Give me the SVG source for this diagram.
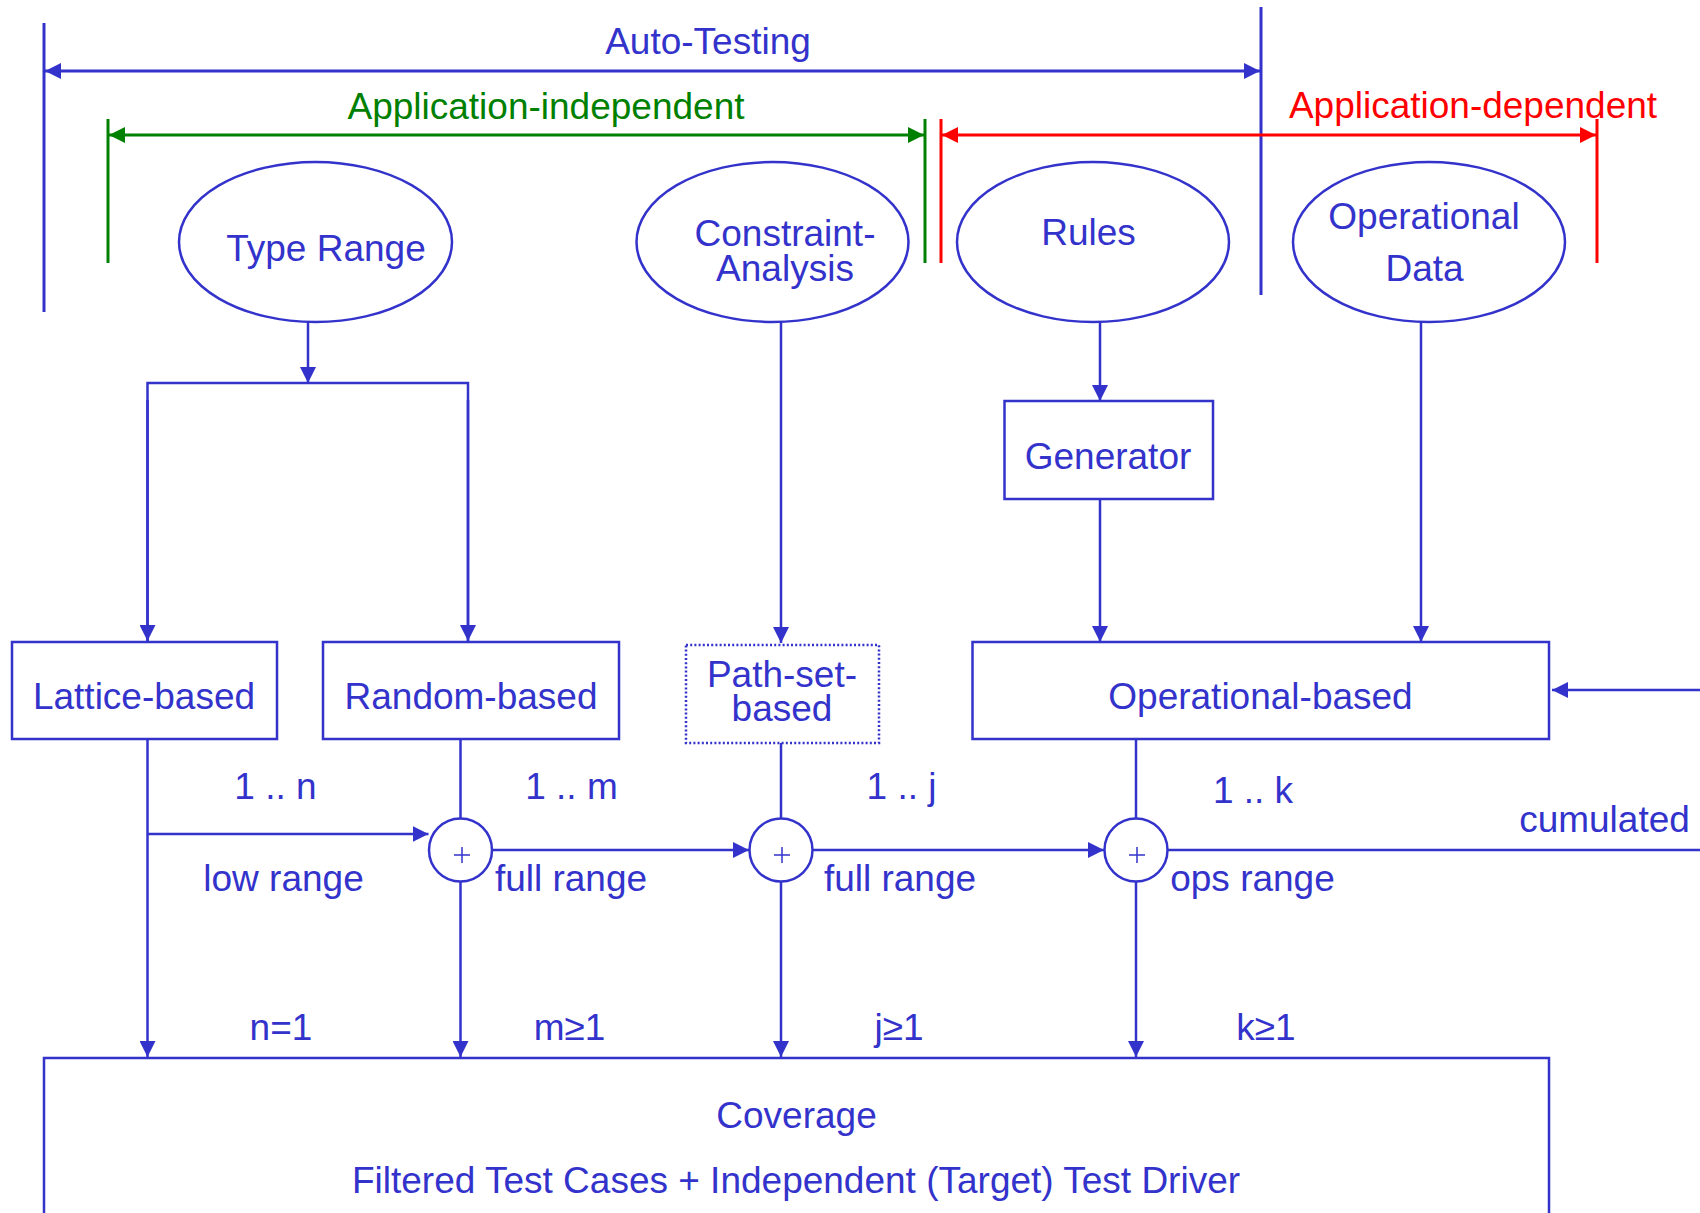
<svg xmlns="http://www.w3.org/2000/svg" width="1700" height="1213" viewBox="0 0 1700 1213">
<style>
text { font-family: "Liberation Sans", Arial, sans-serif; font-size: 37px; fill: #3333cc; text-anchor: middle; }
.shape { fill: #ffffff; stroke: #3333cc; stroke-width: 2.5; }
.dotted { fill: #ffffff; stroke: #3333cc; stroke-width: 2.5; stroke-dasharray: 2 2.2; }
.conn { fill: none; stroke: #3333cc; stroke-width: 2.5; }
.plus { fill: none; stroke: #3333cc; stroke-width: 1.5; }
.dimb { fill: none; stroke: #3333cc; stroke-width: 3; }
.dimg { fill: none; stroke: #008000; stroke-width: 3; }
.dimr { fill: none; stroke: #ff0000; stroke-width: 3; }
</style>
<defs>
<marker id="ab" markerUnits="userSpaceOnUse" markerWidth="16" markerHeight="16" refX="15" refY="7.5" orient="auto-start-reverse" viewBox="0 0 15 15"><path d="M0,0 L15,7.5 L0,15 Z" fill="#3333cc"/></marker>
<marker id="ag" markerUnits="userSpaceOnUse" markerWidth="16" markerHeight="16" refX="15" refY="7.5" orient="auto-start-reverse" viewBox="0 0 15 15"><path d="M0,0 L15,7.5 L0,15 Z" fill="#008000"/></marker>
<marker id="ar" markerUnits="userSpaceOnUse" markerWidth="16" markerHeight="16" refX="15" refY="7.5" orient="auto-start-reverse" viewBox="0 0 15 15"><path d="M0,0 L15,7.5 L0,15 Z" fill="#ff0000"/></marker>
</defs>

<g id="scopes">
  <line class="dimb" x1="44" y1="23" x2="44" y2="312"/>
  <line class="dimb" x1="1261" y1="7" x2="1261" y2="295"/>
  <line class="dimb" x1="45" y1="71" x2="1260" y2="71" marker-start="url(#ab)" marker-end="url(#ab)"/>
  <text x="708" y="53.5">Auto-Testing</text>
  <line class="dimg" x1="108" y1="119" x2="108" y2="263"/>
  <line class="dimg" x1="925" y1="119" x2="925" y2="263"/>
  <line class="dimg" x1="109" y1="135" x2="924" y2="135" marker-start="url(#ag)" marker-end="url(#ag)"/>
  <text x="546" y="119" style="fill:#008000">Application-independent</text>
  <line class="dimr" x1="941" y1="119" x2="941" y2="263"/>
  <line class="dimr" x1="1597" y1="119" x2="1597" y2="263"/>
  <line class="dimr" x1="942" y1="135" x2="1596" y2="135" marker-start="url(#ar)" marker-end="url(#ar)"/>
  <text x="1473" y="118" style="fill:#ff0000">Application-dependent</text>
</g>

<g id="connectors">
  <line class="conn" x1="308" y1="322" x2="308" y2="383" marker-end="url(#ab)"/>
  <path class="conn" d="M147.5,641 V383 H468 V641" />
  <line class="conn" x1="147.5" y1="400" x2="147.5" y2="641" marker-end="url(#ab)"/>
  <line class="conn" x1="468" y1="400" x2="468" y2="641" marker-end="url(#ab)"/>
  <line class="conn" x1="781" y1="322" x2="781" y2="643" marker-end="url(#ab)"/>
  <line class="conn" x1="1100" y1="322" x2="1100" y2="401" marker-end="url(#ab)"/>
  <line class="conn" x1="1100" y1="499" x2="1100" y2="642" marker-end="url(#ab)"/>
  <line class="conn" x1="1421" y1="322" x2="1421" y2="642" marker-end="url(#ab)"/>
  <line class="conn" x1="1700" y1="690" x2="1552" y2="690" marker-end="url(#ab)"/>
  <line class="conn" x1="147.5" y1="739" x2="147.5" y2="1057" marker-end="url(#ab)"/>
  <line class="conn" x1="147.5" y1="834" x2="428.5" y2="834" marker-end="url(#ab)"/>
  <line class="conn" x1="460.5" y1="739" x2="460.5" y2="819"/>
  <line class="conn" x1="460.5" y1="881" x2="460.5" y2="1057" marker-end="url(#ab)"/>
  <line class="conn" x1="492" y1="850" x2="749" y2="850" marker-end="url(#ab)"/>
  <line class="conn" x1="781" y1="743" x2="781" y2="819"/>
  <line class="conn" x1="781" y1="881" x2="781" y2="1057" marker-end="url(#ab)"/>
  <line class="conn" x1="812" y1="850" x2="1104" y2="850" marker-end="url(#ab)"/>
  <line class="conn" x1="1136" y1="739" x2="1136" y2="819"/>
  <line class="conn" x1="1136" y1="881" x2="1136" y2="1057" marker-end="url(#ab)"/>
  <line class="conn" x1="1167" y1="850" x2="1700" y2="850"/>
  <text x="275.5" y="799">1 .. n</text>
  <text x="571.5" y="799">1 .. m</text>
  <text x="901.5" y="799">1 .. j</text>
  <text x="1253" y="803">1 .. k</text>
  <text x="1604.5" y="832">cumulated</text>
  <text x="283.5" y="891">low range</text>
  <text x="571" y="891">full range</text>
  <text x="900" y="891">full range</text>
  <text x="1252.5" y="891">ops range</text>
  <text x="281" y="1040">n=1</text>
  <text x="569.5" y="1040">m≥1</text>
  <text x="899" y="1040">j≥1</text>
  <text x="1266" y="1040">k≥1</text>
</g>

<g id="type-range">
  <ellipse class="shape" cx="315.5" cy="242" rx="136.5" ry="80"/>
  <text x="326" y="261">Type Range</text>
</g>
<g id="constraint-analysis">
  <ellipse class="shape" cx="772.5" cy="242" rx="136" ry="80"/>
  <text x="785" y="246">Constraint-</text>
  <text x="785" y="281">Analysis</text>
</g>
<g id="rules">
  <ellipse class="shape" cx="1093" cy="242" rx="136" ry="80"/>
  <text x="1088.5" y="244.5">Rules</text>
</g>
<g id="operational-data">
  <ellipse class="shape" cx="1429" cy="242" rx="136" ry="80"/>
  <text x="1424" y="229">Operational</text>
  <text x="1424.5" y="281">Data</text>
</g>
<g id="generator">
  <rect class="shape" x="1004.5" y="401" width="208.5" height="98"/>
  <text x="1108" y="469">Generator</text>
</g>
<g id="lattice-based">
  <rect class="shape" x="12" y="642" width="265" height="97"/>
  <text x="144" y="708.5">Lattice-based</text>
</g>
<g id="random-based">
  <rect class="shape" x="323" y="642" width="296" height="97"/>
  <text x="471" y="708.5">Random-based</text>
</g>
<g id="path-set-based">
  <rect class="dotted" x="686" y="645" width="193" height="98"/>
  <text x="782" y="687">Path-set-</text>
  <text x="782" y="721">based</text>
</g>
<g id="operational-based">
  <rect class="shape" x="972.5" y="642" width="576.5" height="97"/>
  <text x="1260.5" y="708.5">Operational-based</text>
</g>
<g id="sum1">
  <circle class="shape" cx="460.5" cy="850" r="31.5"/>
  <path class="plus" d="M454,855 H470 M462,847 V863"/>
</g>
<g id="sum2">
  <circle class="shape" cx="781" cy="850" r="31.5"/>
  <path class="plus" d="M774,855 H790 M782,847 V863"/>
</g>
<g id="sum3">
  <circle class="shape" cx="1136" cy="850" r="31.5"/>
  <path class="plus" d="M1129,855 H1145 M1137,847 V863"/>
</g>
<g id="coverage">
  <rect class="shape" x="44" y="1058" width="1505" height="200"/>
  <text x="796.5" y="1128">Coverage</text>
  <text x="796" y="1193">Filtered Test Cases + Independent (Target) Test Driver</text>
</g>
</svg>
